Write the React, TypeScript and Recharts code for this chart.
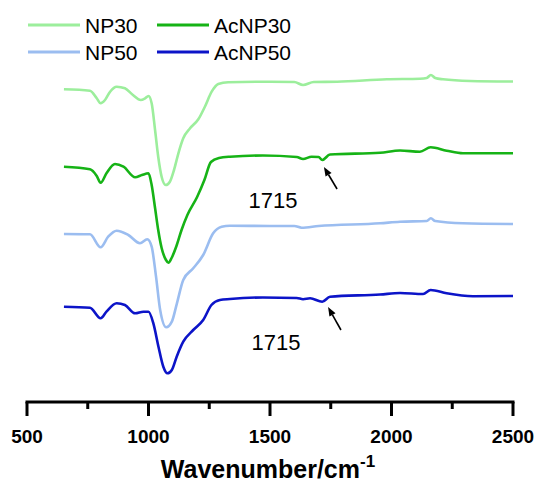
import React from "react";
import {
  LineChart,
  Line,
  XAxis,
  YAxis,
  Legend,
  Label,
  ReferenceDot,
  ReferenceLine,
} from "recharts";

type Pt = { w: number; t: number };

// spectra (intensity in a.u., traces already offset)
const np30: Pt[] = [
  { w: 652, t: 312.7 }, { w: 759, t: 311.3 }, { w: 787, t: 303.7 }, { w: 803, t: 298.7 },
  { w: 821, t: 302 }, { w: 842, t: 310.3 }, { w: 869, t: 315.3 }, { w: 903, t: 313.7 },
  { w: 936, t: 307 }, { w: 968, t: 302 }, { w: 986, t: 303.7 }, { w: 1000, t: 306 },
  { w: 1013, t: 298.7 }, { w: 1027, t: 272 }, { w: 1040, t: 245.3 }, { w: 1054, t: 225.3 },
  { w: 1071, t: 217 }, { w: 1088, t: 220.3 }, { w: 1105, t: 232 }, { w: 1123, t: 248.7 },
  { w: 1143, t: 263.7 }, { w: 1171, t: 273.7 }, { w: 1205, t: 282.7 }, { w: 1232, t: 295.3 },
  { w: 1260, t: 310.3 }, { w: 1287, t: 318 }, { w: 1328, t: 319.7 }, { w: 1500, t: 320.3 },
  { w: 1600, t: 320 }, { w: 1636, t: 317 }, { w: 1680, t: 320 }, { w: 1776, t: 320.3 },
  { w: 1981, t: 322.7 }, { w: 2117, t: 323.3 }, { w: 2145, t: 324 }, { w: 2162, t: 327 },
  { w: 2180, t: 324 }, { w: 2212, t: 322.7 }, { w: 2323, t: 321 }, { w: 2500, t: 320.5 },
];

const acnp30: Pt[] = [
  { w: 652, t: 235.3 }, { w: 759, t: 232.7 }, { w: 787, t: 226 }, { w: 803, t: 219.3 },
  { w: 827, t: 228.7 }, { w: 862, t: 238 }, { w: 897, t: 235.3 }, { w: 945, t: 224.7 },
  { w: 973, t: 227 }, { w: 1000, t: 228.7 }, { w: 1013, t: 217 }, { w: 1027, t: 194 },
  { w: 1040, t: 172 }, { w: 1054, t: 154 }, { w: 1072, t: 142 }, { w: 1082, t: 139.3 },
  { w: 1095, t: 144 }, { w: 1115, t: 156 }, { w: 1136, t: 172 }, { w: 1160, t: 187 },
  { w: 1200, t: 205 }, { w: 1230, t: 222 }, { w: 1257, t: 240 }, { w: 1290, t: 244 },
  { w: 1335, t: 245.3 }, { w: 1471, t: 246.5 }, { w: 1610, t: 245 }, { w: 1636, t: 243 },
  { w: 1671, t: 245.3 }, { w: 1700, t: 245 }, { w: 1715, t: 242 }, { w: 1747, t: 247.5 },
  { w: 1953, t: 249.3 }, { w: 2035, t: 251.5 }, { w: 2117, t: 250.3 }, { w: 2161, t: 254.7 },
  { w: 2227, t: 251.3 }, { w: 2294, t: 248.7 }, { w: 2500, t: 248.7 },
];

const np50: Pt[] = [
  { w: 652, t: 168 }, { w: 759, t: 167.7 }, { w: 803, t: 154.7 }, { w: 834, t: 165.3 },
  { w: 869, t: 171.3 }, { w: 917, t: 167 }, { w: 965, t: 158.7 }, { w: 995, t: 162.7 },
  { w: 1013, t: 155.3 }, { w: 1031, t: 125.3 }, { w: 1048, t: 92 }, { w: 1073, t: 74.7 },
  { w: 1096, t: 80.3 }, { w: 1117, t: 98.7 }, { w: 1143, t: 122 }, { w: 1184, t: 133.7 },
  { w: 1225, t: 147 }, { w: 1266, t: 168.7 }, { w: 1301, t: 175.3 }, { w: 1335, t: 176.3 },
  { w: 1500, t: 176 }, { w: 1600, t: 176 }, { w: 1630, t: 174.3 }, { w: 1700, t: 176 },
  { w: 1953, t: 178.7 }, { w: 2035, t: 180.3 }, { w: 2145, t: 181 }, { w: 2162, t: 183.7 },
  { w: 2180, t: 181 }, { w: 2294, t: 178.7 }, { w: 2500, t: 178 },
];

const acnp50: Pt[] = [
  { w: 652, t: 95.3 }, { w: 759, t: 94.3 }, { w: 803, t: 83.7 }, { w: 827, t: 90.3 },
  { w: 869, t: 98.7 }, { w: 903, t: 97 }, { w: 945, t: 88.7 }, { w: 979, t: 90.3 },
  { w: 1000, t: 90.3 }, { w: 1020, t: 78.7 }, { w: 1041, t: 55.3 }, { w: 1061, t: 35.3 },
  { w: 1078, t: 28.7 }, { w: 1096, t: 32 }, { w: 1116, t: 45.3 }, { w: 1143, t: 60.3 },
  { w: 1184, t: 72 }, { w: 1225, t: 82 }, { w: 1259, t: 97 }, { w: 1294, t: 102 },
  { w: 1335, t: 103 }, { w: 1471, t: 104.5 }, { w: 1610, t: 104 }, { w: 1636, t: 102.8 },
  { w: 1665, t: 103.7 }, { w: 1715, t: 100.3 }, { w: 1747, t: 105.3 }, { w: 1953, t: 107.5 },
  { w: 2035, t: 109 }, { w: 2130, t: 108 }, { w: 2161, t: 112 }, { w: 2227, t: 108.7 },
  { w: 2335, t: 105.8 }, { w: 2500, t: 106 },
];

const xTicks = [500, 750, 1000, 1250, 1500, 1750, 2000, 2250, 2500];
const majorTicks = [500, 1000, 1500, 2000, 2500];

const series = [
  { key: "NP30", data: np30, color: "#9CEE9C" },
  { key: "AcNP30", data: acnp30, color: "#16B316" },
  { key: "NP50", data: np50, color: "#9BBDF0" },
  { key: "AcNP50", data: acnp50, color: "#0C14C8" },
];

// 1715 cm-1 annotations: label position, arrow tail -> tip
const notes = [
  { label: "1715", lx: 1512, ly: 202, tail: { x: 1776, y: 213 }, tip: { x: 1722, y: 235 } },
  { label: "1715", lx: 1525, ly: 60, tail: { x: 1792, y: 72 }, tip: { x: 1739, y: 95 } },
];

const FONT = "'Liberation Sans', Arial, sans-serif";

const AxisTick = (props: any) => {
  const { x, y, payload } = props;
  const major = majorTicks.includes(payload.value);
  return (
    <g>
      <line x1={x} x2={x} y1={y} y2={y + (major ? 14 : 7)} stroke="#000" strokeWidth={3} />
      {major && (
        <text x={x} y={y + 41} textAnchor="middle" fontSize={19} fontWeight="bold" fontFamily={FONT} fill="#000">
          {payload.value}
        </text>
      )}
    </g>
  );
};

const AxisTitle = (props: any) => {
  const vb = props.viewBox;
  return (
    <text x={vb.x + vb.width / 2 - 2} y={vb.y + 76} textAnchor="middle" fontSize={25} fontWeight="bold" fontFamily={FONT} fill="#000">
      <tspan>Wavenumber/cm</tspan>
      <tspan dy={-11} fontSize={17}>-1</tspan>
    </text>
  );
};

const Arrow = (props: any) => {
  const { x1, y1, x2, y2 } = props;
  const ang = Math.atan2(y2 - y1, x2 - x1);
  const len = 9;
  const half = 3.5;
  const bx = x2 - len * Math.cos(ang);
  const by = y2 - len * Math.sin(ang);
  const px = -Math.sin(ang) * half;
  const py = Math.cos(ang) * half;
  return (
    <g>
      <line x1={x1} y1={y1} x2={bx} y2={by} stroke="#000" strokeWidth={1.6} />
      <polygon points={`${x2},${y2} ${bx + px},${by + py} ${bx - px},${by - py}`} fill="#000" />
    </g>
  );
};

const LegendBox = () => (
  <svg width={330} height={66} style={{ display: "block" }}>
    {series.map((s, i) => {
      const col = i % 2;
      const row = Math.floor(i / 2);
      const lx = col === 0 ? 28 : 157;
      const y = 25 + row * 27;
      return (
        <g key={s.key}>
          <line x1={lx} x2={lx + 52} y1={y} y2={y} stroke={s.color} strokeWidth={3} />
          <text x={lx + 57} y={y + 7.5} fontSize={21} fontFamily={FONT} fill="#000">
            {s.key}
          </text>
        </g>
      );
    })}
  </svg>
);

export default function App() {
  return (
    <div style={{ position: "absolute", left: 0, top: 0, width: 539, height: 488, background: "#fff" }}>
      <LineChart width={539} height={488} margin={{ top: 10, right: 26, bottom: 0, left: 27 }}>
        <XAxis
          dataKey="w"
          type="number"
          domain={[500, 2500]}
          ticks={xTicks}
          interval={0}
          height={86}
          tickSize={0}
          tickMargin={0}
          tickLine={false}
          tick={<AxisTick />}
          axisLine={{ stroke: "#000", strokeWidth: 3, strokeLinecap: "square" }}
          allowDuplicatedCategory={false}
        >
          <Label content={<AxisTitle />} />
        </XAxis>
        <YAxis hide type="number" domain={[0, 392]} />
        <Legend
          layout="horizontal"
          verticalAlign="middle"
          align="center"
          wrapperStyle={{ top: 0, left: 0, width: 330, height: 66 }}
          content={() => <LegendBox />}
        />
        {series.map((s) => (
          <Line
            key={s.key}
            data={s.data}
            dataKey="t"
            name={s.key}
            type="monotone"
            stroke={s.color}
            strokeWidth={2.6}
            dot={false}
            activeDot={false}
            isAnimationActive={false}
          />
        ))}
        {notes.map((n, i) => (
          <ReferenceLine
            key={"a" + i}
            segment={[n.tail, n.tip]}
            shape={<Arrow />}
          />
        ))}
        {notes.map((n, i) => (
          <ReferenceDot
            key={"t" + i}
            x={n.lx}
            y={n.ly}
            r={0}
            stroke="none"
            fill="none"
            label={{ value: n.label, position: "center", fontSize: 22, fill: "#000", fontFamily: FONT }}
          />
        ))}
      </LineChart>
    </div>
  );
}
